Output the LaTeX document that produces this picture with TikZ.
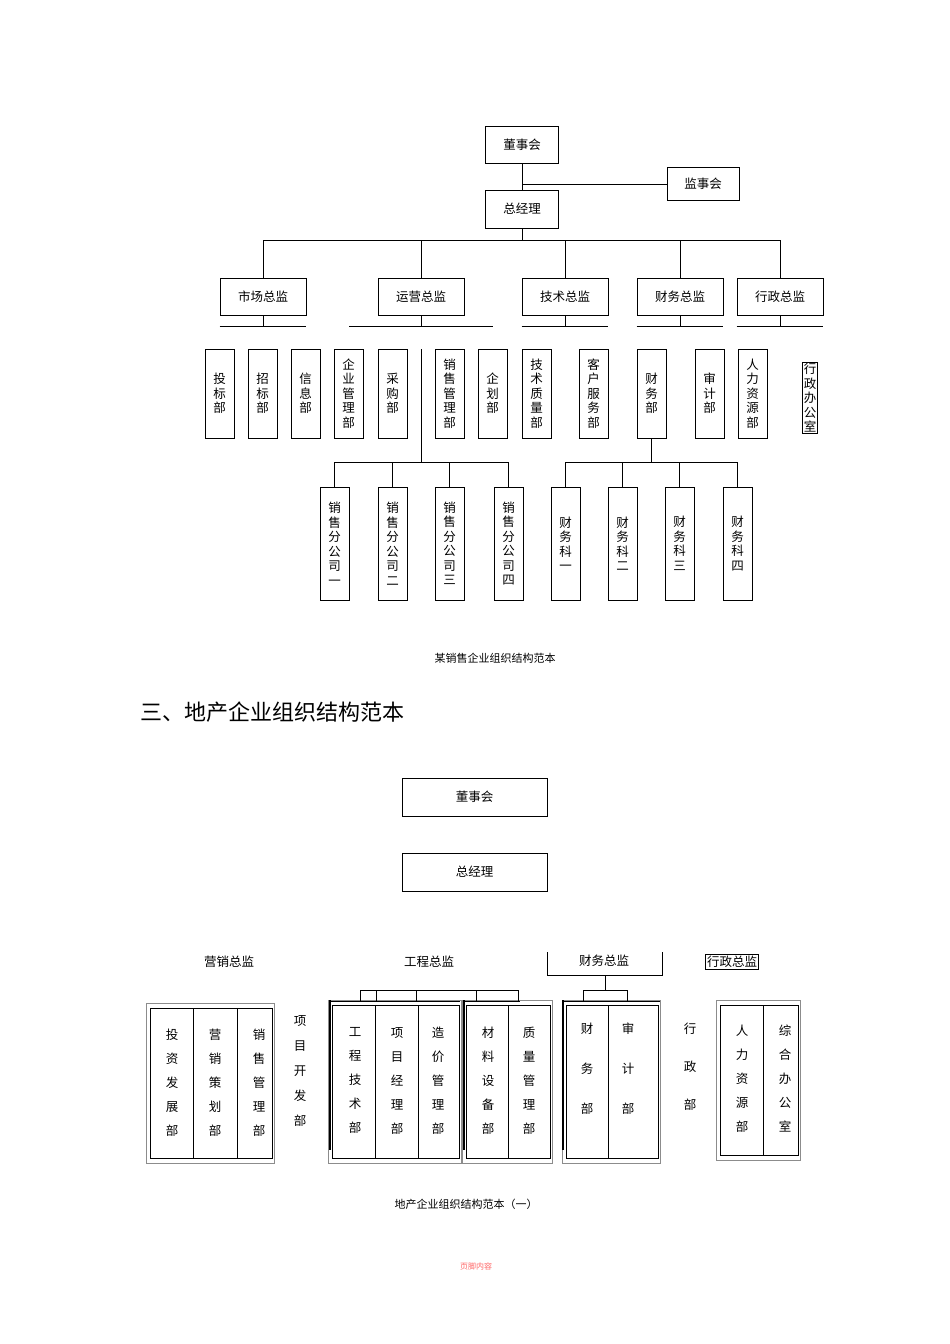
\documentclass[tikz,border=0pt]{standalone}
\usepackage{fontspec}
\setmainfont{Liberation Serif}
\newfontfamily\cjk{Noto Sans CJK SC}
\begin{document}
\begin{tikzpicture}[x=1pt,y=-1pt,
  box/.style={draw,line width=0.8pt,inner sep=0pt,font=\cjk\fontsize{12.5}{14.5}\selectfont,align=center},
  vbox/.style={box,minimum width=29pt},
  plain/.style={inner sep=0pt,font=\cjk\fontsize{12.5}{14.5}\selectfont,align=center},
  ln/.style={line width=0.8pt},
  thin/.style={draw=black!45,line width=0.5pt}]
\useasboundingbox[fill=white] (0,0) rectangle (950,1344);
% ---------- top chart
\node[box,minimum width=73pt,minimum height=37pt] (dong) at (522,145) {董事会};
\node[box,minimum width=72pt,minimum height=33pt] (jian) at (703,184) {监事会};
\node[box,minimum width=73pt,minimum height=38pt] (zong) at (522,209) {总经理};
\draw[ln] (dong.south) -- (zong.north);
\draw[ln] (jian.west) -- (jian.west -| dong.south);
\coordinate (b1) at (0,240);
\foreach \n/\x/\t in {sc/263/市场总监,yy/421/运营总监,js/565/技术总监,cw/680/财务总监,xz/780/行政总监}{
  \node[box,minimum width=86pt,minimum height=37pt] (\n) at (\x,296.5) {\t};
  \draw[ln] (\n.north) -- (\n.north |- b1);
  \draw[ln] (\n.south) -- ++(0,11);
}
\draw[ln] (zong.south) -- (zong.south |- b1);
\draw[ln] (sc.north |- b1) -- (xz.north |- b1);
\coordinate (h1) at (0,326);
\draw[ln] (sc.south west |- h1) -- (sc.south east |- h1);
\draw[ln] (349,326) -- (493,326);
\draw[ln] (js.south west |- h1) -- (js.south east |- h1);
\draw[ln] (cw.south west |- h1) -- (cw.south east |- h1);
\draw[ln] (xz.south west |- h1) -- (xz.south east |- h1);
\foreach \n/\x/\t in {d1/219.5/投\\标\\部,d2/262.5/招\\标\\部,d3/305.5/信\\息\\部,d4/348.5/企\\业\\管\\理\\部,d5/392.5/采\\购\\部,d6/449.5/销\\售\\管\\理\\部,d7/492.5/企\\划\\部,d8/536.5/技\\术\\质\\量\\部,d9/593.5/客\\户\\服\\务\\部,d10/651.5/财\\务\\部,d11/709.5/审\\计\\部,d12/752.5/人\\力\\资\\源\\部}{
  \node[vbox,minimum height=89pt] (\n) at (\x,393.5) {\t};
}
\begin{scope}
\clip (800,360) rectangle (820,433);
\node[box,line width=0.6pt,anchor=north,inner sep=1pt] (xzb) at (810,362) {行\\政\\办\\公\\室};
\end{scope}
\coordinate (vt) at (421,349);
\coordinate (b2) at (0,462);
\draw[ln] (vt) -- (vt |- b2);
\foreach \n/\x/\t in {s1/334.5/销\\售\\分\\公\\司\\一,s2/392.5/销\\售\\分\\公\\司\\二,s3/449.5/销\\售\\分\\公\\司\\三,s4/508.5/销\\售\\分\\公\\司\\四,f1/565.5/财\\务\\科\\一,f2/622.5/财\\务\\科\\二,f3/679.5/财\\务\\科\\三,f4/737.5/财\\务\\科\\四}{
  \node[vbox,minimum height=113pt] (\n) at (\x,543.5) {\t};
  \draw[ln] (\n.north) -- (\n.north |- b2);
}
\draw[ln] (s1.north |- b2) -- (s4.north |- b2);
\draw[ln] (f1.north |- b2) -- (f4.north |- b2);
\draw[ln] (d10.south) -- (d10.south |- b2);
\node[plain,font=\cjk\fontsize{11}{13}\selectfont] (cap1) at (495,658) {某销售企业组织结构范本};
\node[plain,font=\cjk\fontsize{22}{26}\selectfont,anchor=west] (head) at (140,712) {三、地产企业组织结构范本};
% ---------- bottom chart
\node[box,minimum width=145pt,minimum height=38pt] (bd) at (474.5,797) {董事会};
\node[box,minimum width=145pt,minimum height=38pt] (bz) at (474.5,872) {总经理};
\node[plain] (yx) at (229,962) {营销总监};
\node[plain] (gc) at (429,962) {工程总监};
\node[plain] (cwz) at (604,961) {财务总监};
\draw[ln] (547,952) -- (547,975) -- (662,975) -- (662,952);
\node[box,line width=0.5pt,inner sep=1.5pt] (xzz) at (732,962) {行政总监};
% group frames
\newcommand\grp[6]{% name, x1, x2, y1, y2, inner
  \draw[thin] (#2-4,#4-5) rectangle (#3+2,#5+5);
  \draw[ln] (#2,#4) rectangle (#3,#5);
}
\grp{g1}{150}{272}{1008}{1158}{}
\draw[ln] (193,1008) -- (193,1158) (237,1008) -- (237,1158);
\grp{g2}{332}{459}{1005}{1158}{}
\draw[ln] (375,1005) -- (375,1158) (418,1005) -- (418,1158);
\grp{g3}{466}{550}{1005}{1158}{}
\draw[ln] (508,1005) -- (508,1158);
\grp{g4}{566}{658}{1005}{1158}{}
\draw[ln] (608,1005) -- (608,1158);
\grp{g5}{720}{798}{1005}{1155}{}
\draw[ln] (763,1005) -- (763,1155);
\tikzset{vt/.style={plain,font=\cjk\fontsize{12.5}{24}\selectfont}}
\node[vt,anchor=north] (t1) at (172,1029) {投\\资\\发\\展\\部};
\node[vt,anchor=north] (t2) at (215,1029) {营\\销\\策\\划\\部};
\node[vt,anchor=north] (t3) at (259,1029) {销\\售\\管\\理\\部};
\node[vt,anchor=north,font=\cjk\fontsize{12.5}{25}\selectfont] (t4) at (300,1015) {项\\目\\开\\发\\部};
\node[vt,anchor=north] (t5) at (355,1027) {工\\程\\技\\术\\部};
\node[vt,anchor=north] (t6) at (397,1027) {项\\目\\经\\理\\部};
\node[vt,anchor=north] (t7) at (438,1027) {造\\价\\管\\理\\部};
\node[vt,anchor=north] (t8) at (488,1027) {材\\料\\设\\备\\部};
\node[vt,anchor=north] (t9) at (529,1027) {质\\量\\管\\理\\部};
\node[vt,anchor=north,font=\cjk\fontsize{12.5}{40}\selectfont] (t10) at (587,1023) {财\\务\\部};
\node[vt,anchor=north,font=\cjk\fontsize{12.5}{40}\selectfont] (t11) at (628,1023) {审\\计\\部};
\node[vt,anchor=north,font=\cjk\fontsize{12.5}{38}\selectfont] (t12) at (690,1023) {行\\政\\部};
\node[vt,anchor=north] (t13) at (742,1025) {人\\力\\资\\源\\部};
\node[vt,anchor=north] (t14) at (785,1025) {综\\合\\办\\公\\室};
% connectors
\coordinate (b3) at (0,990);
\coordinate (b4) at (0,1001);
\draw[ln] (360,990) -- (518,990);
\foreach \x in {360,376,416,476,518} \draw[ln] (\x,990) -- (\x,1001);
\draw[ln] (330,1001) -- (460,1001) (464,1001) -- (520,1001);
\draw[line width=1.4pt] (330,1000) -- (330,1150);
\draw[line width=1.2pt] (464,1000) -- (464,1150);
\draw[ln] (605,975) -- (605,990);
\draw[ln] (583,990) -- (627,990);
\draw[ln] (583,990) -- (583,1001) (627,990) -- (627,1001);
\draw[ln] (563,1001) -- (660,1001);
\draw[line width=1.2pt] (563,1000) -- (563,1150);
\node[plain,font=\cjk\fontsize{11}{13}\selectfont] (cap2) at (466,1204) {地产企业组织结构范本（一）};
\node[plain,font=\cjk\fontsize{8}{10}\selectfont,text=red!60!white] (foot) at (476,1266) {页脚内容};
\end{tikzpicture}
\end{document}
